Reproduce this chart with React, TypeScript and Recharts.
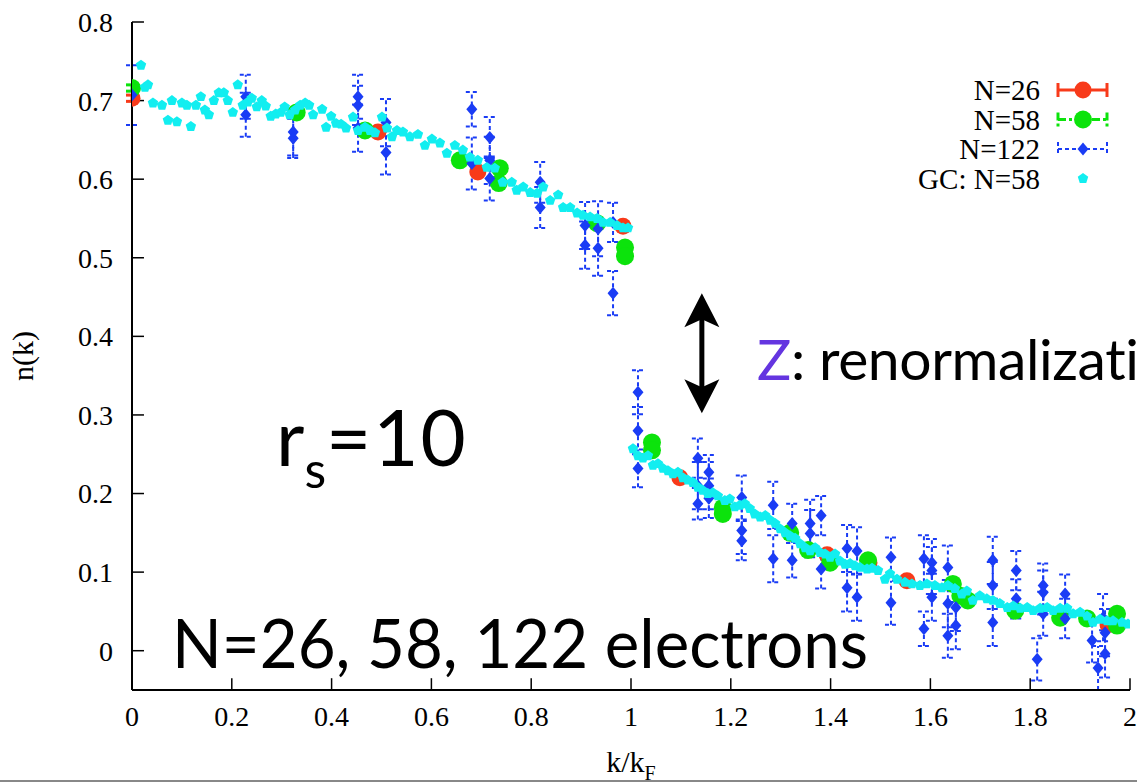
import React from 'react'
import { ScatterChart, Scatter, XAxis, YAxis, ErrorBar, ReferenceLine, Legend } from 'recharts'

const RED = '#f83a1a'
const GREEN = '#0ce30c'
const BLUE = '#1a3cf5'
const CYAN = '#12eef0'
const PURPLE = '#6435e0'
const SERIF = '"Liberation Serif", "Times New Roman", serif'
const SANS = 'Lato, "Open Sans", sans-serif'

const kTicks = [0, 0.2, 0.4, 0.6, 0.8, 1, 1.2, 1.4, 1.6, 1.8, 2]
const nTicks = [0, 0.1, 0.2, 0.3, 0.4, 0.5, 0.6, 0.7, 0.8]

// [k/kF, n(k), error]
const n26 = [
  [0, 0.703, 0.004], [0.493, 0.66, 0.004], [0.693, 0.609, 0.004], [0.984, 0.54, 0.004],
  [1.098, 0.22, 0.004], [1.393, 0.122, 0.004], [1.477, 0.112, 0.004], [1.553, 0.089, 0.004],
  [1.956, 0.033, 0.004],
]

const n58 = [
  [0, 0.716, 0.004], [0.33, 0.685, 0.004], [0.467, 0.662, 0.004], [0.657, 0.624, 0.004],
  [0.737, 0.614, 0.004], [0.735, 0.595, 0.004], [0.932, 0.544, 0.004], [0.988, 0.513, 0.004],
  [0.988, 0.502, 0.004], [1.042, 0.265, 0.004], [1.042, 0.255, 0.004], [1.184, 0.182, 0.004],
  [1.184, 0.174, 0.004], [1.319, 0.15, 0.004], [1.355, 0.128, 0.004], [1.399, 0.112, 0.004],
  [1.475, 0.115, 0.004], [1.645, 0.085, 0.004], [1.66, 0.07, 0.004], [1.675, 0.064, 0.004],
  [1.77, 0.051, 0.004], [1.86, 0.042, 0.004], [1.914, 0.041, 0.004], [1.974, 0.047, 0.004],
  [1.974, 0.032, 0.004],
]

const n122 = [
  [0, 0.707, 0.038], [0.228, 0.705, 0.028], [0.228, 0.682, 0.028], [0.323, 0.66, 0.03],
  [0.323, 0.652, 0.025], [0.453, 0.705, 0.028], [0.453, 0.694, 0.025], [0.453, 0.665, 0.03],
  [0.509, 0.672, 0.03], [0.509, 0.634, 0.028], [0.681, 0.689, 0.022], [0.681, 0.62, 0.033],
  [0.717, 0.653, 0.026], [0.717, 0.624, 0.03], [0.717, 0.601, 0.028], [0.818, 0.596, 0.026],
  [0.818, 0.564, 0.026], [0.908, 0.541, 0.03], [0.908, 0.516, 0.03], [0.934, 0.537, 0.035],
  [0.934, 0.512, 0.035], [0.964, 0.545, 0.025], [0.964, 0.455, 0.028],
  [1.014, 0.329, 0.028], [1.014, 0.28, 0.03], [1.014, 0.232, 0.024], [1.134, 0.245, 0.025],
  [1.134, 0.21, 0.03], [1.134, 0.187, 0.02], [1.156, 0.227, 0.022], [1.156, 0.21, 0.03],
  [1.156, 0.194, 0.025], [1.222, 0.195, 0.028], [1.222, 0.153, 0.03], [1.222, 0.14, 0.025],
  [1.285, 0.185, 0.03], [1.285, 0.117, 0.03], [1.323, 0.162, 0.025], [1.323, 0.115, 0.022],
  [1.359, 0.162, 0.03], [1.359, 0.149, 0.03], [1.381, 0.172, 0.025], [1.381, 0.104, 0.025],
  [1.433, 0.13, 0.03], [1.433, 0.08, 0.03], [1.453, 0.127, 0.03], [1.453, 0.068, 0.03],
  [1.521, 0.119, 0.025], [1.521, 0.061, 0.028], [1.587, 0.117, 0.03], [1.587, 0.028, 0.022],
  [1.603, 0.112, 0.03], [1.603, 0.102, 0.03], [1.603, 0.068, 0.03], [1.635, 0.106, 0.028],
  [1.635, 0.06, 0.03], [1.635, 0.019, 0.028], [1.651, 0.055, 0.03], [1.651, 0.032, 0.03],
  [1.725, 0.115, 0.03], [1.725, 0.083, 0.03], [1.725, 0.036, 0.03], [1.772, 0.102, 0.025],
  [1.772, 0.066, 0.025], [1.814, -0.011, 0.027], [1.826, 0.083, 0.028], [1.826, 0.074, 0.028],
  [1.826, 0.047, 0.028], [1.87, 0.072, 0.025], [1.87, 0.041, 0.025], [1.924, 0.013, 0.028],
  [1.936, -0.022, 0.028], [1.946, 0.042, 0.03], [1.95, 0.023, 0.03], [1.95, -0.004, 0.03],
]

// grand canonical twist averaging, N=58: [k/kF, n(k)]
const gc58 = [
  [0.018, 0.745], [0.026, 0.717], [0.032, 0.72], [0.042, 0.697], [0.06, 0.694], [0.072, 0.675],
  [0.08, 0.7], [0.09, 0.673], [0.1, 0.697], [0.11, 0.694], [0.118, 0.667], [0.128, 0.694],
  [0.138, 0.705], [0.146, 0.688], [0.154, 0.682], [0.164, 0.7], [0.174, 0.71], [0.184, 0.71],
  [0.192, 0.7], [0.202, 0.685], [0.212, 0.72], [0.222, 0.694], [0.232, 0.698], [0.24, 0.703],
  [0.25, 0.692], [0.26, 0.7], [0.268, 0.693], [0.278, 0.68], [0.288, 0.683], [0.298, 0.685],
  [0.306, 0.692], [0.316, 0.682], [0.327, 0.688], [0.337, 0.694], [0.347, 0.697], [0.355, 0.694],
  [0.363, 0.682], [0.381, 0.689], [0.389, 0.666], [0.399, 0.68], [0.409, 0.671], [0.419, 0.67],
  [0.429, 0.665], [0.443, 0.679], [0.453, 0.662], [0.467, 0.666], [0.477, 0.662], [0.487, 0.659],
  [0.501, 0.679], [0.511, 0.665], [0.521, 0.654], [0.531, 0.662], [0.543, 0.66], [0.557, 0.654],
  [0.573, 0.657], [0.587, 0.643], [0.601, 0.651], [0.617, 0.646], [0.631, 0.633], [0.647, 0.643],
  [0.663, 0.637], [0.677, 0.628], [0.693, 0.624], [0.711, 0.615], [0.727, 0.614], [0.743, 0.596],
  [0.761, 0.596], [0.771, 0.586], [0.784, 0.59], [0.798, 0.583], [0.812, 0.582], [0.824, 0.59],
  [0.838, 0.573], [0.854, 0.58], [0.864, 0.564], [0.878, 0.564], [0.892, 0.557], [0.904, 0.554],
  [0.918, 0.552], [0.932, 0.55], [0.944, 0.545], [0.958, 0.545], [0.972, 0.541], [0.984, 0.538],
  [0.994, 0.538],
  [1.004, 0.257], [1.014, 0.248], [1.024, 0.245], [1.034, 0.248], [1.044, 0.236], [1.054, 0.238],
  [1.064, 0.232], [1.074, 0.229], [1.084, 0.225], [1.094, 0.227], [1.104, 0.22], [1.114, 0.217],
  [1.124, 0.214], [1.134, 0.208], [1.144, 0.204], [1.154, 0.2], [1.164, 0.201], [1.174, 0.197],
  [1.188, 0.191], [1.198, 0.193], [1.208, 0.183], [1.218, 0.185], [1.228, 0.187], [1.238, 0.181],
  [1.248, 0.174], [1.259, 0.17], [1.269, 0.172], [1.279, 0.166], [1.289, 0.162], [1.299, 0.155],
  [1.309, 0.15], [1.319, 0.146], [1.329, 0.143], [1.339, 0.136], [1.349, 0.131], [1.359, 0.127],
  [1.369, 0.131], [1.379, 0.125], [1.389, 0.123], [1.399, 0.119], [1.409, 0.123], [1.419, 0.114],
  [1.429, 0.11], [1.439, 0.111], [1.449, 0.108], [1.459, 0.106], [1.473, 0.104], [1.483, 0.105],
  [1.495, 0.102], [1.509, 0.091], [1.519, 0.098], [1.533, 0.091], [1.549, 0.087], [1.563, 0.085],
  [1.579, 0.083], [1.593, 0.085], [1.609, 0.083], [1.623, 0.08], [1.635, 0.083], [1.649, 0.079],
  [1.663, 0.072], [1.673, 0.076], [1.685, 0.064], [1.699, 0.07], [1.713, 0.066], [1.725, 0.064],
  [1.739, 0.06], [1.754, 0.055], [1.766, 0.057], [1.78, 0.054], [1.794, 0.055], [1.806, 0.051],
  [1.82, 0.054], [1.834, 0.055], [1.846, 0.051], [1.86, 0.054], [1.874, 0.054], [1.886, 0.047],
  [1.9, 0.049], [1.914, 0.044], [1.926, 0.036], [1.94, 0.04], [1.954, 0.038], [1.966, 0.038],
  [1.984, 0.036], [1.996, 0.034],
]

// gap at the Fermi surface, marked with a double arrow
const zArrow = { k: 1.142, top: 0.455, bottom: 0.302 }

// inward tick length in data units
const tickLenK = 0.024
const tickLenN = 0.015

const rows = (pts: number[][]) => pts.map(([k, n, err = 0]) => ({ k, n, err }))

const circleShape = (r: number, fill: string) => (p: any) => (
  <circle cx={p.cx} cy={p.cy} r={r} fill={fill} />
)

const diamondPoints = (cx: number, cy: number) =>
  `${cx},${cy - 6.5} ${cx + 5.5},${cy} ${cx},${cy + 6.5} ${cx - 5.5},${cy}`

const pentagonPoints = (cx: number, cy: number, r: number) =>
  [0, 1, 2, 3, 4]
    .map((i) => {
      const a = -Math.PI / 2 + (i * 2 * Math.PI) / 5
      return `${cx + r * Math.cos(a)},${cy + r * Math.sin(a)}`
    })
    .join(' ')

const diamondShape = (p: any) => <polygon points={diamondPoints(p.cx, p.cy)} fill={BLUE} />
const pentagonShape = (p: any) => <polygon points={pentagonPoints(p.cx, p.cy, 5.5)} fill={CYAN} />

const DoubleArrow = (p: any) => {
  const x = p.x1
  const top = Math.min(p.y1, p.y2)
  const bot = Math.max(p.y1, p.y2)
  return (
    <g>
      <line x1={x} y1={top + 20} x2={x} y2={bot - 20} stroke="#000" strokeWidth={5} />
      <path d={`M${x},${top} L${x + 17.5},${top + 34} L${x},${top + 26} L${x - 17.5},${top + 34} Z`} fill="#000" />
      <path d={`M${x},${bot} L${x + 17.5},${bot - 34} L${x},${bot - 26} L${x - 17.5},${bot - 34} Z`} fill="#000" />
    </g>
  )
}

const legendItems = [
  { label: 'N=26', color: RED, kind: 'circle', dash: undefined, width: 3 },
  { label: 'N=58', color: GREEN, kind: 'circle', dash: '8 3 3 3', width: 3 },
  { label: 'N=122', color: BLUE, kind: 'diamond', dash: '4 3', width: 2 },
  { label: 'GC: N=58', color: CYAN, kind: 'pentagon', dash: undefined, width: 0 },
]

const renderLegend = () => (
  <svg width={230} height={130}>
    {legendItems.map((it, i) => {
      const y = 20 + i * 29.5
      const x0 = 158
      const x1 = 207
      const xm = 183
      return (
        <g key={it.label}>
          <text x={140} y={y} textAnchor="end" dominantBaseline="central" fontFamily={SERIF} fontSize={29} fill="#000">
            {it.label}
          </text>
          {it.kind !== 'pentagon' && (
            <g stroke={it.color} strokeWidth={it.width} strokeDasharray={it.dash}>
              <line x1={x0} y1={y} x2={x1} y2={y} />
              <line x1={x0} y1={y - 7} x2={x0} y2={y + 7} />
              <line x1={x1} y1={y - 7} x2={x1} y2={y + 7} />
            </g>
          )}
          {it.kind === 'circle' && <circle cx={xm} cy={y} r={it.color === RED ? 8.5 : 9} fill={it.color} />}
          {it.kind === 'diamond' && <polygon points={diamondPoints(xm, y)} fill={BLUE} />}
          {it.kind === 'pentagon' && <polygon points={pentagonPoints(xm, y, 5.5)} fill={CYAN} />}
        </g>
      )
    })}
  </svg>
)

const YTitle = (props: any) => {
  const vb = props.viewBox || { x: 0, y: 22, width: 132, height: 668 }
  const cx = vb.x + 22
  const cy = vb.y + vb.height / 2
  return (
    <text x={cx} y={cy} transform={`rotate(-90 ${cx} ${cy})`} textAnchor="middle" dominantBaseline="central"
      fontFamily={SERIF} fontSize={30} fill="#000">
      n(k)
    </text>
  )
}

const XTitle = (props: any) => {
  const vb = props.viewBox || { x: 132, y: 690, width: 998, height: 93 }
  const cx = vb.x + vb.width / 2
  const by = vb.y + 82
  return (
    <text x={cx} y={by} textAnchor="middle" fontFamily={SERIF} fontSize={30} fill="#000">
      k/k<tspan fontSize={20} dy={8}>F</tspan>
    </text>
  )
}

const tickStyle = { fill: '#000', fontSize: 28, fontFamily: SERIF }

export default function App() {
  return (
    <div style={{ position: 'absolute', left: 0, top: 0, width: 1137, height: 783, overflow: 'hidden', background: '#fff' }}>
      <ScatterChart width={1137} height={783} margin={{ top: 22, right: 7, bottom: 0, left: 0 }} style={{ overflow: 'visible' }}>
        <XAxis
          type="number"
          dataKey="k"
          domain={[0, 2]}
          ticks={kTicks}
          interval={0}
          height={93}
          tickSize={0}
          tickMargin={16}
          tickLine={false}
          axisLine={{ stroke: '#000', strokeWidth: 2 }}
          tick={tickStyle}
          allowDataOverflow
          label={{ content: XTitle }}
        />
        <YAxis
          type="number"
          dataKey="n"
          domain={[-0.05, 0.8]}
          ticks={nTicks}
          interval={0}
          width={132}
          tickSize={0}
          tickMargin={19}
          tickLine={false}
          axisLine={{ stroke: '#000', strokeWidth: 2 }}
          tick={tickStyle}
          allowDataOverflow
          label={{ content: YTitle }}
        />
        {kTicks.map((t) => (
          <ReferenceLine key={`kt${t}`} segment={[{ x: t, y: -0.05 }, { x: t, y: -0.05 + tickLenN }]}
            stroke="#000" strokeWidth={1.5} ifOverflow="visible" />
        ))}
        {nTicks.map((t) => (
          <ReferenceLine key={`nt${t}`} segment={[{ x: 0, y: t }, { x: tickLenK, y: t }]}
            stroke="#000" strokeWidth={1.5} ifOverflow="visible" />
        ))}
        <Scatter name="N=26" data={rows(n26)} fill={RED} shape={circleShape(8.5, RED)} isAnimationActive={false}>
          <ErrorBar dataKey="err" direction="y" width={6} stroke={RED} strokeWidth={3} />
        </Scatter>
        <Scatter name="N=58" data={rows(n58)} fill={GREEN} shape={circleShape(9, GREEN)} isAnimationActive={false}>
          <ErrorBar dataKey="err" direction="y" width={6} stroke={GREEN} strokeWidth={3} />
        </Scatter>
        <Scatter name="N=122" data={rows(n122)} fill={BLUE} shape={diamondShape} isAnimationActive={false}>
          <ErrorBar dataKey="err" direction="y" width={6} stroke={BLUE} strokeWidth={2} strokeDasharray="4 3" />
        </Scatter>
        <Scatter name="GC: N=58" data={rows(gc58)} fill={CYAN} shape={pentagonShape} isAnimationActive={false} />
        <ReferenceLine
          segment={[{ x: zArrow.k, y: zArrow.top }, { x: zArrow.k, y: zArrow.bottom }]}
          shape={DoubleArrow}
          ifOverflow="visible"
        />
        <Legend
          layout="vertical"
          align="center"
          verticalAlign="middle"
          content={renderLegend}
          wrapperStyle={{ left: 900, top: 70, width: 230, height: 130 }}
        />
      </ScatterChart>
      <svg width={1137} height={783} style={{ position: 'absolute', left: 0, top: 0, pointerEvents: 'none' }}>
        <text x={276} y={466} fontFamily={SANS} fontSize={78} fill="#000">
          r<tspan fontSize={50} dy={22}>s</tspan><tspan dy={-22} letterSpacing={2}>=10</tspan>
        </text>
        <text x={172} y={668} fontFamily={SANS} fontSize={68} fill="#000" textLength={696} lengthAdjust="spacingAndGlyphs">
          N=26, 58, 122 electrons
        </text>
        <text x={757} y={380} fontFamily={SANS} fontSize={57} fill="#000" letterSpacing={-0.4}>
          <tspan fill={PURPLE}>Z</tspan>: renormalization
        </text>
        <line x1={0} y1={781} x2={1137} y2={781} stroke="#888" strokeWidth={2} />
      </svg>
    </div>
  )
}
